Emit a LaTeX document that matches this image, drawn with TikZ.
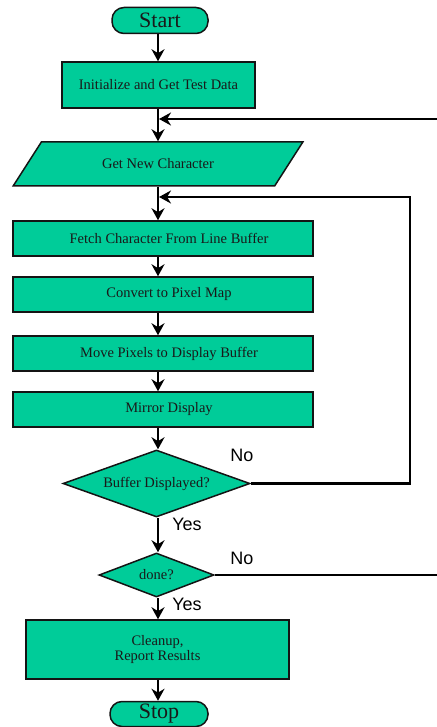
\documentclass[tikz,border=0pt]{standalone}
\usepackage{fontspec}
\setmainfont{Liberation Serif}
\newfontfamily\labfont{Liberation Sans}
\usetikzlibrary{shapes.geometric,arrows.meta}
\definecolor{boxgreen}{RGB}{0,204,153}
\definecolor{edge}{RGB}{20,20,20}
\begin{document}
\begin{tikzpicture}[x=1pt,y=-1pt,
  shapebase/.style={draw=edge, line width=1.5pt, fill=boxgreen, inner sep=0pt, text=black!90},
  proc/.style={shapebase, rectangle, align=center, font=\fontsize{14.5}{15}\selectfont},
  term/.style={shapebase, rectangle, rounded corners=12pt, minimum width=96pt, minimum height=26pt, font=\fontsize{22}{24}\selectfont},
  dec/.style={shapebase, diamond, font=\fontsize{14.5}{16}\selectfont},
  io/.style={shapebase, trapezium, trapezium left angle=37, trapezium right angle=143, trapezium stretches=true, font=\fontsize{14.5}{16}\selectfont},
  conn/.style={line width=2.8pt, -{Stealth[length=12pt,width=13pt]}},
  plain/.style={line width=2.8pt},
  lab/.style={font=\labfont\fontsize{18}{20}\selectfont, inner sep=0pt}]
\useasboundingbox (0,0) rectangle (436,727);

\node[term] (start) at (160,20.5) {Start};
\node[proc, minimum width=193pt, minimum height=46pt] (init) at (158.5,85) {Initialize and Get Test Data};
\node[io, minimum width=290pt, minimum height=44pt] (gnc) at (158,164) {Get New Character};
\node[proc, minimum width=300pt, minimum height=35pt] (fetch) at (163,238.5) {\hspace*{12pt}Fetch Character From Line Buffer};
\node[proc, minimum width=300pt, minimum height=35pt] (conv) at (163,294.5) {\hspace*{12pt}Convert to Pixel Map};
\node[proc, minimum width=300pt, minimum height=35pt] (move) at (163,353.5) {\hspace*{12pt}Move Pixels to Display Buffer};
\node[proc, minimum width=300pt, minimum height=35pt] (mirror) at (163,409.5) {\hspace*{12pt}Mirror Display};
\node[dec, aspect=2.79, minimum width=187pt, minimum height=67pt] (buf) at (156.5,483.5) {Buffer Displayed?};
\node[dec, aspect=2.6, minimum width=115pt, minimum height=44pt] (done) at (156.5,575) {done?};
\node[proc, minimum width=263pt, minimum height=59pt] (clean) at (157.5,649.5) {Cleanup,\\Report Results};
\node[term, minimum width=98pt, minimum height=25pt] (stop) at (159,714) {Stop};

\coordinate (main) at (158,0);
\coordinate (m1) at (158,119);
\coordinate (m1r) at (159,119);
\coordinate (m2) at (158,197);
\coordinate (m2r) at (159,197);
\coordinate (loopA) at (410,483.5);
\coordinate (loopB) at (440,575);

\draw[conn] (start.south -| main) -- (init.north -| main);
\draw[plain] (init.south -| main) -- (m1);
\draw[conn] (m1) -- (gnc.north -| main);
\draw[plain] (gnc.south -| main) -- (m2);
\draw[conn] (m2) -- (fetch.north -| main);
\draw[conn] (fetch.south -| main) -- (conv.north -| main);
\draw[conn] (conv.south -| main) -- (move.north -| main);
\draw[conn] (move.south -| main) -- (mirror.north -| main);
\draw[conn] (mirror.south -| main) -- (buf.north -| main);
\draw[conn] (buf.south -| main) -- (done.north -| main);
\draw[conn] (done.south -| main) -- (clean.north -| main);
\draw[conn] (clean.south -| main) -- (stop.north -| main);

\draw[conn] (buf.east) -- (loopA) |- (m2r);
\draw[conn] (done.east) -- (loopB) |- (m1r);

\node[lab] (no1) at (242,455) {No};
\node[lab] (yes1) at (187,524) {Yes};
\node[lab] (no2) at (242,558) {No};
\node[lab] (yes2) at (187,604) {Yes};
\end{tikzpicture}
\end{document}
